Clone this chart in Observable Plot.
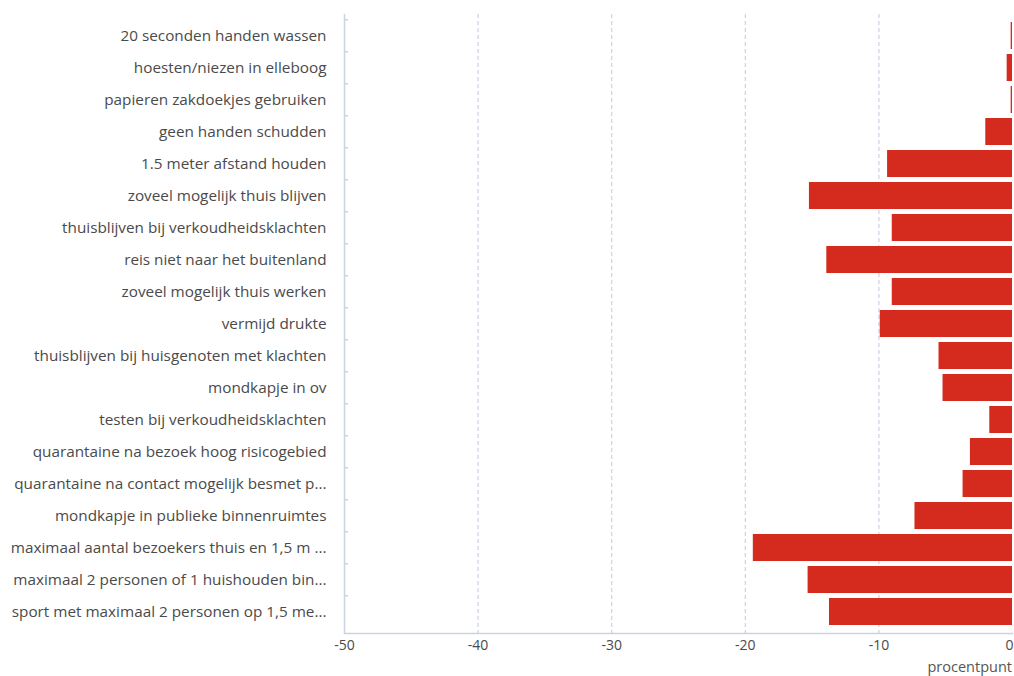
<!DOCTYPE html>
<html>
<head>
<meta charset="utf-8">
<script src="https://cdn.jsdelivr.net/npm/d3@7"></script>
<script src="https://cdn.jsdelivr.net/npm/@observablehq/plot@0.6"></script>
<style>
  html, body { margin: 0; padding: 0; background: #fff; }
  #chart { position: relative; width: 1014px; height: 676px; }
  #unit { position: absolute; right: 2px; top: 661px; font: 14.5px/12px "Open Sans", sans-serif; color: #555; }
</style>
</head>
<body>
<div id="chart"></div>
<script>
const categories = [
  "20 seconden handen wassen",
  "hoesten/niezen in elleboog",
  "papieren zakdoekjes gebruiken",
  "geen handen schudden",
  "1.5 meter afstand houden",
  "zoveel mogelijk thuis blijven",
  "thuisblijven bij verkoudheidsklachten",
  "reis niet naar het buitenland",
  "zoveel mogelijk thuis werken",
  "vermijd drukte",
  "thuisblijven bij huisgenoten met klachten",
  "mondkapje in ov",
  "testen bij verkoudheidsklachten",
  "quarantaine na bezoek hoog risicogebied",
  "quarantaine na contact mogelijk besmet p...",
  "mondkapje in publieke binnenruimtes",
  "maximaal aantal bezoekers thuis en 1,5 m ...",
  "maximaal 2 personen of 1 huishouden bin...",
  "sport met maximaal 2 personen op 1,5 me..."
];
const values = [-0.1, -0.4, -0.1, -2.0, -9.35, -15.2, -9.0, -13.9, -9.0, -9.9, -5.5, -5.2, -1.7, -3.15, -3.7, -7.3, -19.4, -15.3, -13.7];
const xTicks = [-50, -40, -30, -20, -10];
const lastTick = [0];
const gridTicks = [-40, -30, -20, -10];
const unitLabel = "procentpunt";

const data = categories.map((c, i) => ({category: c, value: values[i]}));
const axisColor = "#c9d3e3";
const textColor = "#4a4a4a";
const bandStep = (633 - 14) / categories.length;
const fmt = d => String(d);

const chart = Plot.plot({
  width: 1014,
  height: 676,
  marginLeft: 344,
  marginRight: 2,
  marginTop: 14,
  marginBottom: 43,
  style: {fontFamily: "'Open Sans', sans-serif", fontSize: "14px", color: textColor, background: "#fff"},
  x: {domain: [-50, 0], label: null},
  y: {domain: categories, paddingInner: 0.17, paddingOuter: 0.085, label: null},
  marks: [
    Plot.ruleX(gridTicks, {stroke: axisColor, strokeDasharray: "4,3", strokeWidth: 1.2}),
    Plot.barX(data, {x: d => d.value, y: "category", fill: "#d52b1e"}),
    Plot.ruleX([-50], {stroke: axisColor, strokeWidth: 1.5}),
    Plot.axisY({tickSize: 0, tickPadding: 18, fontSize: 15.3, fill: textColor}),
    Plot.axisY({text: null, tickSize: -4, dy: -bandStep / 2, stroke: axisColor, strokeWidth: 1.5}),
    Plot.axisX({ticks: xTicks, tickFormat: fmt, tickSize: 0, tickPadding: 7, fontSize: 14, fill: textColor, label: null}),
    Plot.axisX({ticks: lastTick, tickFormat: fmt, tickSize: 0, tickPadding: 7, fontSize: 14, fill: textColor, label: null, textAnchor: "end", dx: 1}),
    Plot.frame({anchor: "bottom", stroke: axisColor, strokeWidth: 1.5})
  ]
});
document.getElementById("chart").appendChild(chart);
const u = document.createElement("div");
u.id = "unit";
u.textContent = unitLabel;
document.getElementById("chart").appendChild(u);
</script>
</body>
</html>
